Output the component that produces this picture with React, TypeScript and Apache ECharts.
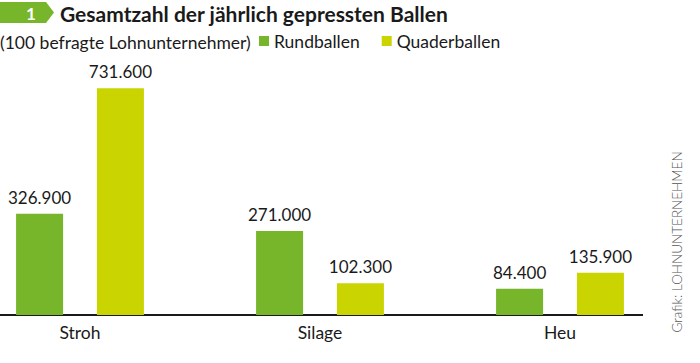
import React, { useEffect, useRef } from "react";
import * as echarts from "echarts";

const categories = ["Stroh", "Silage", "Heu"];
const rundballen = [326900, 271000, 84400];
const quaderballen = [731600, 102300, 135900];
const seriesNames = ["Rundballen", "Quaderballen"];
const title = "Gesamtzahl der jährlich gepressten Ballen";
const subtitle = "(100 befragte Lohnunternehmer)";
const source = "Grafik: LOHNUNTERNEHMEN";

const GREEN = "#77b52b";
const YELLOW = "#c9d400";
const FONT = "Lato";

function fmt(v: number): string {
  return String(Math.round(v)).replace(/\B(?=(\d{3})+(?!\d))/g, ".");
}

export default function App() {
  const ref = useRef<HTMLDivElement>(null);
  useEffect(() => {
    if (!ref.current) return;
    const chart = echarts.init(ref.current, null, { renderer: "svg" });
    const label = {
      show: true,
      position: "top",
      distance: 8,
      fontFamily: FONT,
      fontSize: 17,
      color: "#1a1a1a",
      formatter: (p: any) => fmt(p.value),
    };
    chart.setOption({
      animation: false,
      backgroundColor: "#ffffff",
      textStyle: { fontFamily: FONT },
      grid: { left: 80, right: 140, top: 67, bottom: 48 },
      legend: {
        left: 254,
        top: 27,
        icon: "rect",
        itemWidth: 10,
        itemHeight: 10,
        itemGap: 22,
        textStyle: { fontFamily: FONT, fontSize: 17.5, color: "#1a1a1a", padding: [0, 0, 0, 0] },
        data: seriesNames,
      },
      xAxis: {
        type: "category",
        data: categories,
        boundaryGap: false,
        axisLine: { show: false },
        axisTick: { show: false },
        axisLabel: { fontFamily: FONT, fontSize: 17.5, color: "#1a1a1a", margin: 8 },
      },
      yAxis: {
        type: "value",
        min: 0,
        max: 800000,
        show: false,
        splitLine: { show: false },
      },
      series: [
        {
          name: seriesNames[0],
          type: "bar",
          data: rundballen,
          barWidth: 47,
          barGap: "72%",
          itemStyle: { color: GREEN },
          label,
        },
        {
          name: seriesNames[1],
          type: "bar",
          data: quaderballen,
          barWidth: 47,
          barGap: "72%",
          itemStyle: { color: YELLOW },
          label,
        },
      ],
      graphic: [
        {
          type: "polygon",
          shape: { points: [[0, 2], [46, 2], [54, 12.5], [46, 23], [0, 23]] },
          style: { fill: GREEN },
        },
        {
          type: "text",
          x: 31,
          y: 13,
          style: {
            text: "1",
            fill: "#ffffff",
            font: `bold 17px ${FONT}`,
            textAlign: "center",
            textVerticalAlign: "middle",
          },
        },
        {
          type: "text",
          x: 60,
          y: 13,
          style: {
            text: title,
            fill: "#1a1a1a",
            font: `bold 21px ${FONT}`,
            textAlign: "left",
            textVerticalAlign: "middle",
          },
        },
        {
          type: "text",
          x: 0,
          y: 42,
          style: {
            text: subtitle,
            fill: "#1a1a1a",
            font: `17.5px ${FONT}`,
            textAlign: "left",
            textVerticalAlign: "middle",
          },
        },
        {
          type: "line",
          shape: { x1: 0, y1: 315, x2: 643, y2: 315 },
          style: { stroke: "#1a1a1a", lineWidth: 2 },
        },
        {
          type: "text",
          x: 677,
          y: 242,
          rotation: Math.PI / 2,
          style: {
            text: source,
            fill: "#555555",
            font: `300 13.5px ${FONT}`,
            textAlign: "center",
            textVerticalAlign: "middle",
          },
        },
      ],
    });
    return () => chart.dispose();
  }, []);
  return (
    <div
      ref={ref}
      style={{ position: "fixed", left: 0, top: 0, width: 700, height: 363 }}
    />
  );
}
